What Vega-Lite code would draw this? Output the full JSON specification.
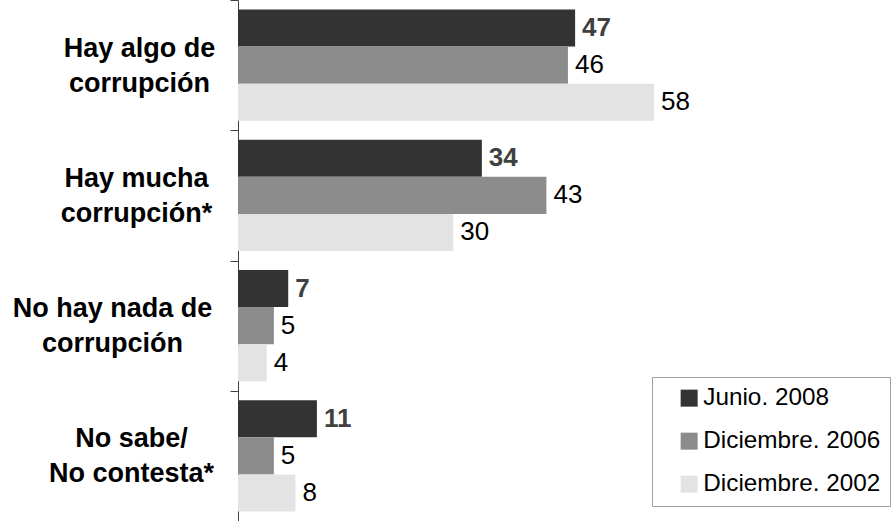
{
  "$schema": "https://vega.github.io/schema/vega-lite/v6.json",
  "width": 657,
  "height": 521,
  "autosize": {"type": "none"},
  "padding": {"left": 238, "top": 0, "right": 0, "bottom": 0},
  "background": "white",
  "config": {"view": {"stroke": null}},
  "data": {
    "values": [
      {"categoria": "Hay algo de\ncorrupción", "serie": "Junio. 2008", "valor": 47},
      {"categoria": "Hay algo de\ncorrupción", "serie": "Diciembre. 2006", "valor": 46},
      {"categoria": "Hay algo de\ncorrupción", "serie": "Diciembre. 2002", "valor": 58},
      {"categoria": "Hay mucha\ncorrupción*", "serie": "Junio. 2008", "valor": 34},
      {"categoria": "Hay mucha\ncorrupción*", "serie": "Diciembre. 2006", "valor": 43},
      {"categoria": "Hay mucha\ncorrupción*", "serie": "Diciembre. 2002", "valor": 30},
      {"categoria": "No hay nada de\ncorrupción", "serie": "Junio. 2008", "valor": 7},
      {"categoria": "No hay nada de\ncorrupción", "serie": "Diciembre. 2006", "valor": 5},
      {"categoria": "No hay nada de\ncorrupción", "serie": "Diciembre. 2002", "valor": 4},
      {"categoria": "No sabe/\nNo contesta*", "serie": "Junio. 2008", "valor": 11},
      {"categoria": "No sabe/\nNo contesta*", "serie": "Diciembre. 2006", "valor": 5},
      {"categoria": "No sabe/\nNo contesta*", "serie": "Diciembre. 2002", "valor": 8}
    ]
  },
  "encoding": {
    "y": {
      "field": "categoria",
      "type": "nominal",
      "sort": null,
      "scale": {"paddingInner": 0, "paddingOuter": 0},
      "axis": {
        "title": null,
        "labelExpr": "datum.value ? split(datum.value, '\\n') : ''",
        "domainColor": "#404040",
        "domainWidth": 1,
        "tickColor": "#404040",
        "tickSize": 8,
        "tickBand": "extent",
        "labelFont": "Liberation Sans",
        "labelFontSize": 27,
        "labelFontWeight": "bold",
        "labelColor": "black",
        "labelAlign": "center",
        "labelBaseline": "middle",
        "labelLineHeight": 35,
        "labelOffset": -17,
        "labelLimit": 0,
        "labelPadding": {
          "condition": [
            {"test": "indexof('' + datum.value, 'algo') >= 0", "value": 91},
            {"test": "indexof('' + datum.value, 'mucha') >= 0", "value": 94},
            {"test": "indexof('' + datum.value, 'nada') >= 0", "value": 118}
          ],
          "value": 99
        }
      }
    },
    "yOffset": {
      "field": "serie",
      "type": "nominal",
      "sort": ["Junio. 2008", "Diciembre. 2006", "Diciembre. 2002"],
      "scale": {"paddingInner": 0, "paddingOuter": 0.26}
    },
    "x": {
      "field": "valor",
      "type": "quantitative",
      "scale": {"domain": [0, 91.6], "nice": false},
      "axis": null
    }
  },
  "layer": [
    {
      "mark": {"type": "bar"},
      "encoding": {
        "color": {
          "field": "serie",
          "type": "nominal",
          "sort": ["Junio. 2008", "Diciembre. 2006", "Diciembre. 2002"],
          "scale": {
            "domain": ["Junio. 2008", "Diciembre. 2006", "Diciembre. 2002"],
            "range": ["#333333", "#8c8c8c", "#e3e3e3"]
          },
          "legend": {
            "orient": "none",
            "legendX": 414,
            "legendY": 377,
            "title": null,
            "symbolType": "square",
            "symbolSize": 289,
            "symbolStrokeWidth": 0,
            "symbolOpacity": 1,
            "labelFont": "Liberation Sans",
            "labelFontSize": 24.3,
            "labelColor": "black",
            "labelLimit": 0,
            "labelOffset": 2,
            "padding": 9,
            "symbolOffset": 16,
            "rowPadding": 18,
            "strokeColor": "#a0a0a0",
            "fillColor": "white"
          }
        }
      }
    },
    {
      "transform": [{"filter": "datum.serie === 'Junio. 2008'"}],
      "mark": {
        "type": "text",
        "align": "left",
        "baseline": "middle",
        "dx": 7,
        "font": "Liberation Sans",
        "fontSize": 26,
        "fontWeight": "bold",
        "color": "#404040"
      },
      "encoding": {
        "text": {"field": "valor", "type": "quantitative"}
      }
    },
    {
      "transform": [{"filter": "datum.serie !== 'Junio. 2008'"}],
      "mark": {
        "type": "text",
        "align": "left",
        "baseline": "middle",
        "dx": 7,
        "font": "Liberation Sans",
        "fontSize": 26,
        "color": "black"
      },
      "encoding": {
        "text": {"field": "valor", "type": "quantitative"}
      }
    }
  ]
}
